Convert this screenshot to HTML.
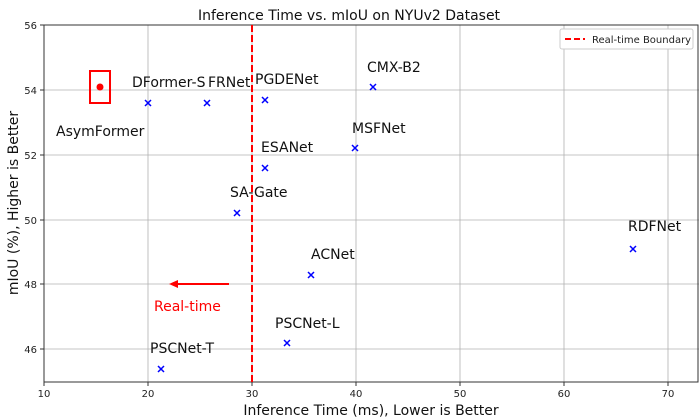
<!DOCTYPE html>
<html><head><style>body{margin:0;background:#fff}svg{display:block;font-family:"DejaVu Sans","Liberation Sans",sans-serif}</style></head><body>
<svg width="699" height="417" viewBox="0 0 699 417" xmlns="http://www.w3.org/2000/svg">
<rect width="699" height="417" fill="#fff"/>
<g stroke="#b0b0b0" stroke-width="0.8">
<line x1="148" y1="25" x2="148" y2="382"/><line x1="252" y1="25" x2="252" y2="382"/><line x1="356" y1="25" x2="356" y2="382"/><line x1="460" y1="25" x2="460" y2="382"/><line x1="564" y1="25" x2="564" y2="382"/><line x1="668" y1="25" x2="668" y2="382"/>
<line x1="44" y1="349" x2="699" y2="349"/><line x1="44" y1="284" x2="699" y2="284"/><line x1="44" y1="220" x2="699" y2="220"/><line x1="44" y1="155" x2="699" y2="155"/><line x1="44" y1="90" x2="699" y2="90"/>
</g>
<rect x="44" y="25" width="654" height="357" fill="none" stroke="#333" stroke-width="1"/>
<g stroke="#333"><line x1="44" y1="382" x2="44" y2="386"/><line x1="148" y1="382" x2="148" y2="386"/><line x1="252" y1="382" x2="252" y2="386"/><line x1="356" y1="382" x2="356" y2="386"/><line x1="460" y1="382" x2="460" y2="386"/><line x1="564" y1="382" x2="564" y2="386"/><line x1="668" y1="382" x2="668" y2="386"/>
<line x1="40" y1="349" x2="44" y2="349"/><line x1="40" y1="284" x2="44" y2="284"/><line x1="40" y1="220" x2="44" y2="220"/><line x1="40" y1="155" x2="44" y2="155"/><line x1="40" y1="90" x2="44" y2="90"/><line x1="40" y1="25" x2="44" y2="25"/></g>
<g font-size="10" fill="#222" text-anchor="middle"><text x="44" y="397">10</text><text x="148" y="397">20</text><text x="252" y="397">30</text><text x="356" y="397">40</text><text x="460" y="397">50</text><text x="564" y="397">60</text><text x="668" y="397">70</text></g>
<g font-size="10" fill="#222" text-anchor="end"><text x="37" y="353">46</text><text x="37" y="288">48</text><text x="37" y="224">50</text><text x="37" y="159">52</text><text x="37" y="94">54</text><text x="37" y="29">56</text></g>
<text x="349" y="20" font-size="14" text-anchor="middle" fill="#111">Inference Time vs. mIoU on NYUv2 Dataset</text>
<text x="371" y="415" font-size="14" text-anchor="middle" fill="#111">Inference Time (ms), Lower is Better</text>
<text transform="translate(18,203) rotate(-90)" font-size="14" text-anchor="middle" fill="#111">mIoU (%), Higher is Better</text>
<line x1="252" y1="25" x2="252" y2="382" stroke="#f00" stroke-width="2" stroke-dasharray="7,3"/>
<g stroke="#00f" stroke-width="1.5">
<path d="M145 100l6 6M151 100l-6 6"/><path d="M204 100l6 6M210 100l-6 6"/><path d="M262 97l6 6M268 97l-6 6"/><path d="M370 84l6 6M376 84l-6 6"/><path d="M352 145l6 6M358 145l-6 6"/><path d="M262 165l6 6M268 165l-6 6"/><path d="M234 210l6 6M240 210l-6 6"/><path d="M630 246l6 6M636 246l-6 6"/><path d="M308 272l6 6M314 272l-6 6"/><path d="M284 340l6 6M290 340l-6 6"/><path d="M158 366l6 6M164 366l-6 6"/>
</g>
<rect x="90" y="71" width="20" height="32" fill="none" stroke="#f00" stroke-width="2"/>
<circle cx="100" cy="87" r="3.5" fill="#f00"/>
<g font-size="14" fill="#111">
<text x="132" y="87">DFormer-S</text><text x="208" y="87">FRNet</text><text x="255" y="84">PGDENet</text><text x="367" y="72">CMX-B2</text><text x="56" y="136">AsymFormer</text><text x="352" y="133">MSFNet</text><text x="261" y="152">ESANet</text><text x="230" y="197">SA-Gate</text><text x="628" y="261" dy="-30">RDFNet</text><text x="311" y="259">ACNet</text><text x="275" y="328">PSCNet-L</text><text x="150" y="353">PSCNet-T</text>
</g>
<line x1="229" y1="284" x2="176" y2="284" stroke="#f00" stroke-width="2"/>
<path d="M169 284l9-4v8z" fill="#f00"/>
<text x="154" y="311" font-size="14" fill="#f00">Real-time</text>
<rect x="560" y="29" width="133" height="20" rx="2" fill="#fff" stroke="#ccc"/>
<line x1="565" y1="39" x2="585" y2="39" stroke="#f00" stroke-width="2" stroke-dasharray="6,3"/>
<text x="592" y="43" font-size="10" fill="#222">Real-time Boundary</text>
</svg>
</body></html>
